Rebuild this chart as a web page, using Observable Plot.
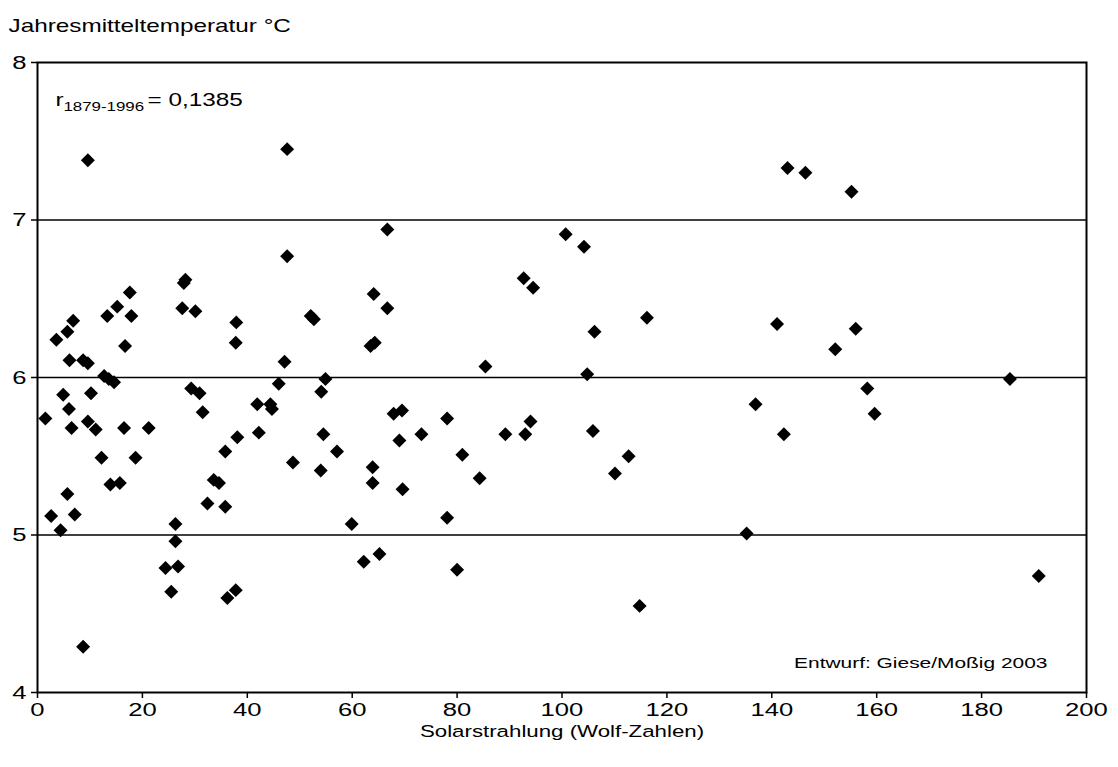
<!DOCTYPE html>
<html>
<head>
<meta charset="utf-8">
<script src="https://cdn.jsdelivr.net/npm/d3@7"></script>
<script src="https://cdn.jsdelivr.net/npm/@observablehq/plot@0.6"></script>
<style>
  html, body { margin: 0; padding: 0; background: #fff; }
</style>
</head>
<body>
<div id="chart"></div>
<script>
// Solarstrahlung (Wolf-Zahlen) vs. Jahresmitteltemperatur °C, 1879–1996
const wolf = [
  1.5, 3.6, 5.7, 6.8, 6.1, 8.7, 9.6, 4.9, 6.0, 6.5,
  9.6, 11.1, 10.2, 12.7, 13.6, 14.6, 13.3, 15.2, 17.9, 16.7,
  16.5, 21.2, 12.2, 18.7, 13.9, 15.7, 5.7, 2.6, 7.1, 4.4,
  26.3, 26.3, 27.6, 30.1, 29.3, 30.9, 31.5, 35.8, 38.1, 33.6,
  34.6, 32.4, 35.8, 37.9, 37.8, 41.9, 44.4, 44.7, 42.2, 46.0,
  47.1, 24.4, 26.8, 25.5, 36.2, 37.8, 8.7, 9.6, 28.2, 17.6,
  47.6, 66.7, 47.6, 92.7, 94.5, 64.1, 66.7, 52.1, 63.5, 85.4,
  54.9, 54.1, 67.9, 69.5, 78.1, 94.0, 54.5, 69.0, 73.2, 89.2,
  93.0, 57.1, 81.0, 48.7, 54.0, 63.9, 63.9, 69.6, 84.3, 78.1,
  59.9, 62.2, 65.2, 80.0, 100.7, 104.2, 116.2, 106.2, 141.0, 152.1,
  104.8, 136.9, 142.3, 105.9, 112.7, 110.1, 135.2, 114.8, 155.2, 156.0,
  158.2, 159.6, 185.4, 190.9, 143.0, 146.4, 52.7, 64.3, 27.9
];
const temp = [
  5.74, 6.24, 6.29, 6.36, 6.11, 6.11, 6.09, 5.89, 5.80, 5.68,
  5.72, 5.67, 5.90, 6.01, 5.99, 5.97, 6.39, 6.45, 6.39, 6.20,
  5.68, 5.68, 5.49, 5.49, 5.32, 5.33, 5.26, 5.12, 5.13, 5.03,
  5.07, 4.96, 6.44, 6.42, 5.93, 5.90, 5.78, 5.53, 5.62, 5.35,
  5.33, 5.20, 5.18, 6.35, 6.22, 5.83, 5.83, 5.80, 5.65, 5.96,
  6.10, 4.79, 4.80, 4.64, 4.60, 4.65, 4.29, 7.38, 6.62, 6.54,
  7.45, 6.94, 6.77, 6.63, 6.57, 6.53, 6.44, 6.39, 6.20, 6.07,
  5.99, 5.91, 5.77, 5.79, 5.74, 5.72, 5.64, 5.60, 5.64, 5.64,
  5.64, 5.53, 5.51, 5.46, 5.41, 5.43, 5.33, 5.29, 5.36, 5.11,
  5.07, 4.83, 4.88, 4.78, 6.91, 6.83, 6.38, 6.29, 6.34, 6.18,
  6.02, 5.83, 5.64, 5.66, 5.50, 5.39, 5.01, 4.55, 7.18, 6.31,
  5.93, 5.77, 5.99, 4.74, 7.33, 7.30, 6.37, 6.22, 6.60
];
const xTicks = [0, 20, 40, 60, 80, 100, 120, 140, 160, 180, 200];
const yTicks = [4, 5, 6, 7, 8];
const gridValues = [5, 6, 7];

const yTitle = "Jahresmitteltemperatur °C";
const xTitle = "Solarstrahlung (Wolf-Zahlen)";
const credit = "Entwurf: Giese/Moßig 2003";
const rLabel = ["r", "1879-1996", "= 0,1385"];

const data = wolf.map((w, i) => ({wolf: w, temp: temp[i]}));

const SX = 1.35; // horizontal stretch of the reference lettering

const chart = Plot.plot({
  width: 1118,
  height: 767,
  marginLeft: 37,
  marginRight: 32,
  marginTop: 62,
  marginBottom: 75,
  style: {fontFamily: "'Liberation Sans', Arial, sans-serif", fontSize: "19px", color: "#000", background: "#fff"},
  x: {domain: [0, 200]},
  y: {domain: [4, 8]},
  marks: [
    Plot.ruleY(gridValues, {stroke: "#000", strokeWidth: 1.5}),
    Plot.frame({stroke: "#000", strokeWidth: 2}),
    Plot.axisX({ticks: xTicks, tickSize: 6, tickPadding: 4, label: null, strokeWidth: 1.5, fontSize: 19, tickFormat: d => String(d)}),
    Plot.axisY({ticks: yTicks, tickSize: 6, tickPadding: 5, label: null, strokeWidth: 1.5, fontSize: 19, tickFormat: d => String(d)}),
    Plot.dot(data, {x: "wolf", y: "temp", symbol: "diamond2", r: 6.3, fill: "#000", stroke: "none"}),
    Plot.text([yTitle], {frameAnchor: "top-left", dx: -29, dy: -36, textAnchor: "start", lineAnchor: "middle", fontSize: 18}),
    Plot.text([xTitle], {frameAnchor: "bottom", dy: 39, lineAnchor: "middle", fontSize: 16.5}),
    Plot.text([credit], {frameAnchor: "bottom-right", dx: -39, dy: -29, textAnchor: "end", lineAnchor: "middle", fontSize: 15.5}),
    Plot.text([rLabel[0]], {frameAnchor: "top-left", dx: 18, dy: 38, textAnchor: "start", lineAnchor: "middle", fontSize: 18}),
    Plot.text([rLabel[1]], {frameAnchor: "top-left", dx: 26, dy: 44, textAnchor: "start", lineAnchor: "middle", fontSize: 12.5}),
    Plot.text([rLabel[2]], {frameAnchor: "top-left", dx: 110, dy: 38, textAnchor: "start", lineAnchor: "middle", fontSize: 18})
  ]
});

// stretch every text horizontally about its own anchor, as in the reference
chart.querySelectorAll("text").forEach(t => {
  const tr = t.getAttribute("transform") || "";
  const xs = parseFloat(t.getAttribute("x"));
  const x = Number.isFinite(xs) ? xs : 0;
  t.setAttribute("transform", `${tr} translate(${x},0) scale(${SX},1) translate(${-x},0)`.trim());
});

document.getElementById("chart").appendChild(chart);
</script>
</body>
</html>
